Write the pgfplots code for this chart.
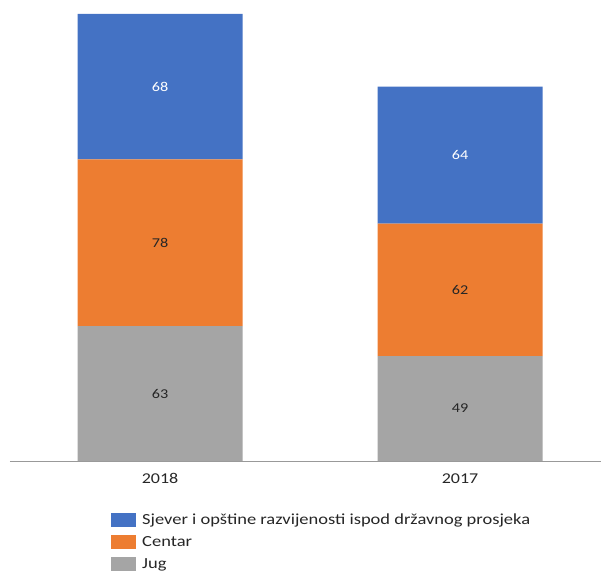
\documentclass[border=0pt]{standalone}
\usepackage{pgfplots}
\pgfplotsset{compat=1.18}
\usepackage{fontspec}
\setmainfont{Carlito}[FakeStretch=1.2]
\definecolor{cblue}{HTML}{4472C4}
\definecolor{corange}{HTML}{ED7D31}
\definecolor{cgray}{HTML}{A5A5A5}
\definecolor{ctext}{HTML}{262626}
\begin{document}
\begin{tikzpicture}
\useasboundingbox (0,0) rectangle (601pt,571pt);
\begin{axis}[
  at={(10pt,110pt)}, anchor=south west,
  scale only axis, width=591pt, height=461pt,
  xmin=-0.5, xmax=1.47, ymin=0, ymax=215.5,
  ybar stacked, bar width=165pt,
  axis y line=none, axis x line*=bottom,
  x axis line style={draw=gray!80, line width=0.8pt, -},
  xtick={0,1}, xticklabels={2018,2017}, major tick length=0pt,
  xticklabel style={font=\fontsize{15}{18}\selectfont, text=ctext, yshift=-9pt},
  /pgf/number format/assume math mode=true,
  nodes near coords,
  every node near coord/.append style={anchor=center,
    font=\fontsize{13.5}{16}\selectfont},
  legend style={at={(axis description cs:0.1709,-0.1128)}, anchor=north west,
    draw=none, fill=none, font=\fontsize{15.4}{18}\selectfont, text=ctext,
    row sep=8pt, inner sep=0pt,
    nodes={inner xsep=6pt, inner ysep=0pt}},
  legend cell align=left, reverse legend,
  legend image code/.code={\fill[#1] (0pt,-7pt) rectangle (25pt,7pt);},
]
\addplot[fill=cgray, draw=none, nodes near coords style={text=ctext}] coordinates {(0,63) (1,49)};
\addplot[fill=corange, draw=none, nodes near coords style={text=ctext}] coordinates {(0,78) (1,62)};
\addplot[fill=cblue, draw=none, nodes near coords style={text=white}] coordinates {(0,68) (1,64)};
\legend{Jug, Centar, Sjever i opštine razvijenosti ispod državnog prosjeka}
\end{axis}
\end{tikzpicture}
\end{document}
